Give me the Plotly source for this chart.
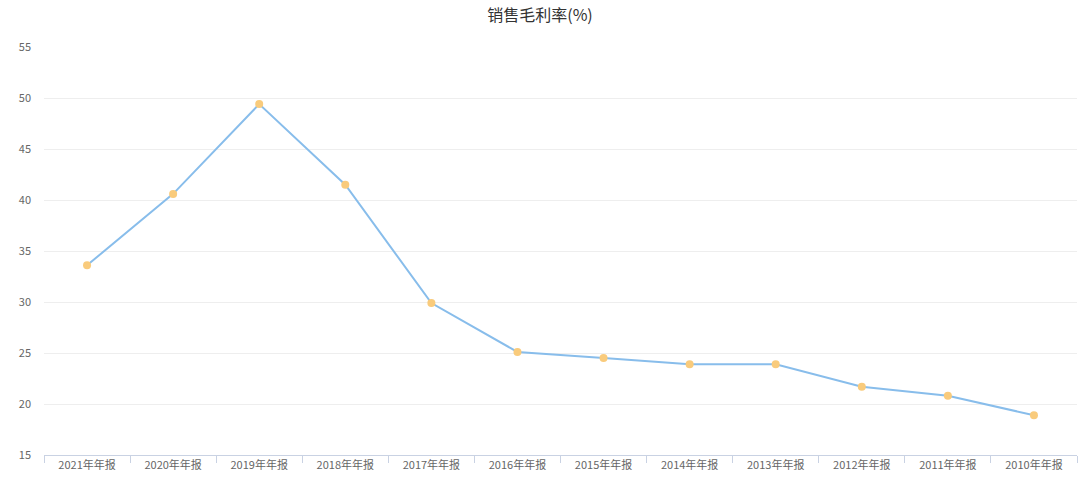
import plotly.graph_objects as go

categories = ["2021年年报", "2020年年报", "2019年年报", "2018年年报", "2017年年报", "2016年年报",
              "2015年年报", "2014年年报", "2013年年报", "2012年年报", "2011年年报", "2010年年报"]
gross_margin = [33.6, 40.6, 49.4, 41.5, 29.9, 25.1, 24.5, 23.9, 23.9, 21.7, 20.8, 18.9]
y_ticks = [15, 20, 25, 30, 35, 40, 45, 50, 55]

FONT = "Noto Sans CJK SC"

fig = go.Figure()
fig.add_trace(go.Scatter(
    x=categories, y=gross_margin, mode="lines+markers",
    line=dict(color="#88BDEB", width=2),
    marker=dict(color="#F9CB7C", size=8),
    name="销售毛利率(%)",
))

fig.update_layout(
    width=1080, height=495,
    margin=dict(l=44, r=3, t=47, b=40),
    paper_bgcolor="white", plot_bgcolor="white",
    showlegend=False,
    title=dict(text="销售毛利率(%)", x=0.5, xanchor="center", y=0.969, yanchor="middle",
               font=dict(family=FONT, size=16, color="#333333")),
    font=dict(family=FONT, size=11, color="#666666"),
)
fig.update_xaxes(
    type="category", tickson="boundaries", ticks="outside", ticklen=7,
    tickcolor="#C9D2E3", showline=True, linecolor="#C9D2E3", linewidth=1,
    showgrid=False, tickfont=dict(family=FONT, size=11, color="#666666"),
    range=[-0.5, len(categories) - 0.5],
)
fig.update_yaxes(
    range=[15, 55], tickvals=y_ticks, showgrid=True, gridcolor="#EEEEEE", gridwidth=1,
    zeroline=False, showline=False, ticks="", ticklabelstandoff=12,
    tickfont=dict(family=FONT, size=11, color="#666666"),
)

fig.write_html("out.html", config={"displayModeBar": False},
               post_script="document.body.style.margin='0';")
